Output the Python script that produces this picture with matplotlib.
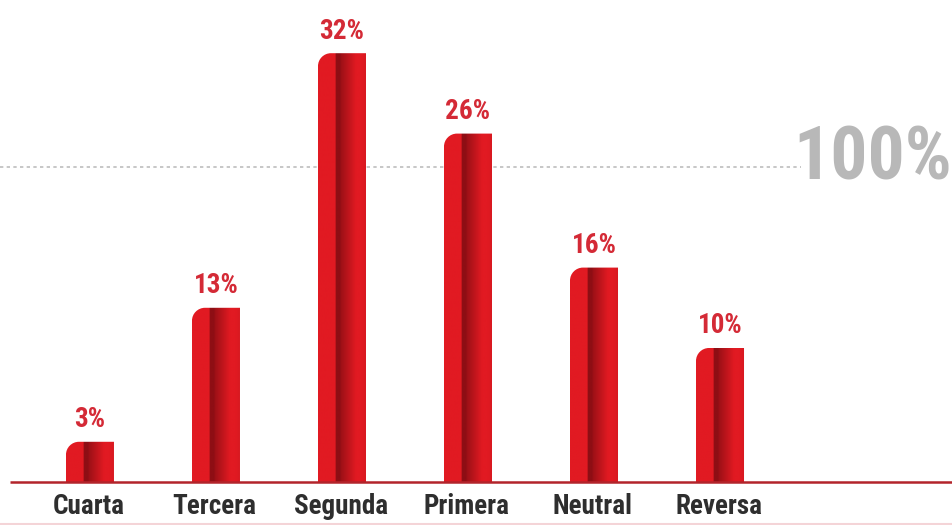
import matplotlib
matplotlib.use("Agg")
import matplotlib.pyplot as plt
import numpy as np
from matplotlib.path import Path
from matplotlib.patches import PathPatch
from matplotlib.colors import to_rgb

categories = ['Cuarta', 'Tercera', 'Segunda', 'Primera', 'Neutral', 'Reversa']
shares = [3, 13, 32, 26, 16, 10]
value_labels = ['3%', '13%', '32%', '26%', '16%', '10%']
ref_label = '100%'

RED = '#e11a22'
DARK = '#8e0e14'
TEXT_RED = '#d42a36'
LABEL = '#2e2e2e'
FONT = ['Roboto Condensed', 'DejaVu Sans']

fig = plt.figure(figsize=(9.53, 5.25), dpi=100)
ax = fig.add_axes([0, 0, 1, 1])
ax.set_xlim(-0.714, 6.849)
ax.set_ylim(-3.21, 35.97)
ax.axis('off')

x = np.arange(len(categories))
bars = ax.bar(x, shares, width=0.381, fill=False, linewidth=0)

# horizontal shading: red, sharp dark stripe, fading back to red
n = 200
t = np.linspace(0, 1, n)
r0, r1 = np.array(to_rgb(RED)), np.array(to_rgb(DARK))
w = np.zeros(n)
w[(t >= 0.36) & (t < 0.46)] = 1.0
m = t >= 0.46
w[m] = np.clip(1 - (t[m] - 0.46) / 0.32, 0, 1) * 0.85
w += np.clip((t - 0.9) / 0.1, 0, 1) * 0.15
grad = (r0[None, :] * (1 - w[:, None]) + r1[None, :] * w[:, None])[None, :, :]

# corner radius of ~13 px in data units
rx = 13 / 126
ry = 13 / 13.4
k = 0.5523
for b in bars:
    x0, h, bw = b.get_x(), b.get_height(), b.get_width()
    x1 = x0 + bw
    verts = [(x0, 0), (x0, h - ry),
             (x0, h - ry + ry * k), (x0 + rx - rx * k, h), (x0 + rx, h),
             (x1, h), (x1, 0), (x0, 0)]
    codes = [Path.MOVETO, Path.LINETO,
             Path.CURVE4, Path.CURVE4, Path.CURVE4,
             Path.LINETO, Path.LINETO, Path.CLOSEPOLY]
    clip = PathPatch(Path(verts, codes), facecolor='none', edgecolor='none')
    ax.add_patch(clip)
    im = ax.imshow(grad, extent=(x0, x1, 0, h), aspect='auto', zorder=2,
                   interpolation='bilinear')
    im.set_clip_path(clip)

for xi, v, lab in zip(x, shares, value_labels):
    ax.annotate(lab, (xi, v), xytext=(0, 10.5), textcoords='offset points',
                ha='center', va='baseline', color=TEXT_RED, fontsize=19.5,
                fontweight='bold', family=FONT)

for xi, c in zip(x, categories):
    ax.annotate(c, (xi, 0), xytext=(-1, -18), textcoords='offset points',
                ha='center', va='center', color=LABEL, fontsize=19.5,
                fontweight='bold', family=FONT)

# baseline and reference line
ax.plot([-0.635, 6.849], [0, 0], color='#b3242b', lw=1.8, zorder=3,
        solid_capstyle='butt')
ax.plot([-0.714, 6.849], [-3.15, -3.15], color='#f4d4d7', lw=1.5, zorder=1)
ax.axhline(23.5, xmin=0, xmax=0.84, color='#bdbdbd', lw=1.2,
           linestyle=(0, (2, 2)), zorder=1)
ax.text(6.84, 24.05, ref_label, ha='right', va='center', color='#b8b8b8',
        fontsize=53, fontweight='bold', family=FONT)

fig.savefig('out.png', dpi=100)
